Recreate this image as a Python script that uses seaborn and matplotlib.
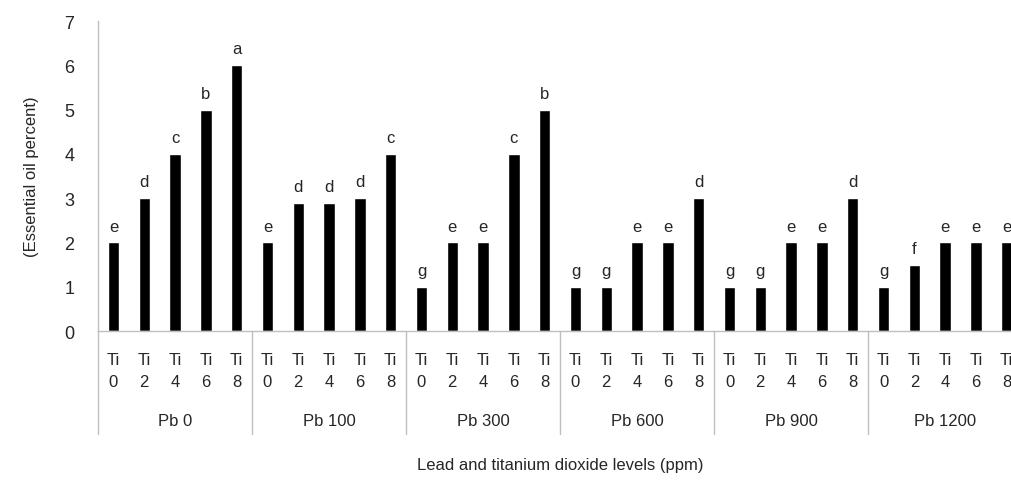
import matplotlib
matplotlib.use('Agg')
import matplotlib.pyplot as plt
import matplotlib.transforms as mtransforms
import numpy as np
import pandas as pd
import seaborn as sns

# data
pb_levels = ['Pb 0', 'Pb 100', 'Pb 300', 'Pb 600', 'Pb 900', 'Pb 1200']
ti_levels = ['0', '2', '4', '6', '8']
oil_pb0 = [2, 3, 4, 5, 6]
oil_pb100 = [2, 2.9, 2.9, 3, 4]
oil_pb300 = [1, 2, 2, 4, 5]
oil_pb600 = [1, 1, 2, 2, 3]
oil_pb900 = [1, 1, 2, 2, 3]
oil_pb1200 = [1, 1.5, 2, 2, 2]
letters = ['e', 'd', 'c', 'b', 'a',
           'e', 'd', 'd', 'd', 'c',
           'g', 'e', 'e', 'c', 'b',
           'g', 'g', 'e', 'e', 'd',
           'g', 'g', 'e', 'e', 'd',
           'g', 'f', 'e', 'e', 'e']

values = oil_pb0 + oil_pb100 + oil_pb300 + oil_pb600 + oil_pb900 + oil_pb1200
cats = [f'{pb}|Ti {ti}' for pb in pb_levels for ti in ti_levels]
df = pd.DataFrame({'cat': cats, 'oil': values})

sns.set_style('white')
plt.rcParams['font.family'] = ['Liberation Sans Narrow', 'Liberation Sans', 'DejaVu Sans']
txt = '#262626'
axis_col = '#bfbfbf'

fig = plt.figure(figsize=(10.11, 5.02), dpi=100)
ax = fig.add_axes([0.097, 0.3386, 0.914, 0.6175])

sns.barplot(data=df, x='cat', y='oil', color='black', width=0.37,
            saturation=1, ax=ax, errorbar=None)

ax.set_ylim(0, 7)
ax.set_xlim(-0.5, len(cats) - 0.5)
ax.set_yticks(range(0, 8))
ax.tick_params(axis='y', length=5, color=axis_col, labelsize=13, labelcolor=txt, pad=12)
ax.set_xticks(range(len(cats)))
ax.set_xticklabels([f'Ti\n{t}' for pb in pb_levels for t in ti_levels],
                   fontsize=12, color=txt, linespacing=1.6)
ax.tick_params(axis='x', length=0, pad=15)

for s in ['top', 'right']:
    ax.spines[s].set_visible(False)
for s in ['left', 'bottom']:
    ax.spines[s].set_color(axis_col)
    ax.spines[s].set_linewidth(1)

# letters over bars
for i, (v, l) in enumerate(zip(values, letters)):
    ax.text(i, v + 0.2, l, ha='center', va='bottom', fontsize=12, color=txt)

# group separators and Pb labels
trans = mtransforms.blended_transform_factory(ax.transData, ax.transAxes)
for g in range(len(pb_levels) + 1):
    x = g * 5 - 0.5
    ax.plot([x, x], [0, -0.333], transform=trans, color=axis_col, lw=1, clip_on=False)
for g, pb in enumerate(pb_levels):
    ax.text(g * 5 + 2, -0.29, pb, transform=trans, ha='center', va='center',
            fontsize=12, color=txt)

ax.set_xlabel('Lead and titanium dioxide levels (ppm)', fontsize=12, color=txt, labelpad=0)
ax.xaxis.set_label_coords(0.5, -0.405, transform=ax.transAxes)
ax.set_ylabel('(Essential oil percent)', fontsize=12, color=txt, labelpad=18)

fig.savefig('out.png', dpi=100)
